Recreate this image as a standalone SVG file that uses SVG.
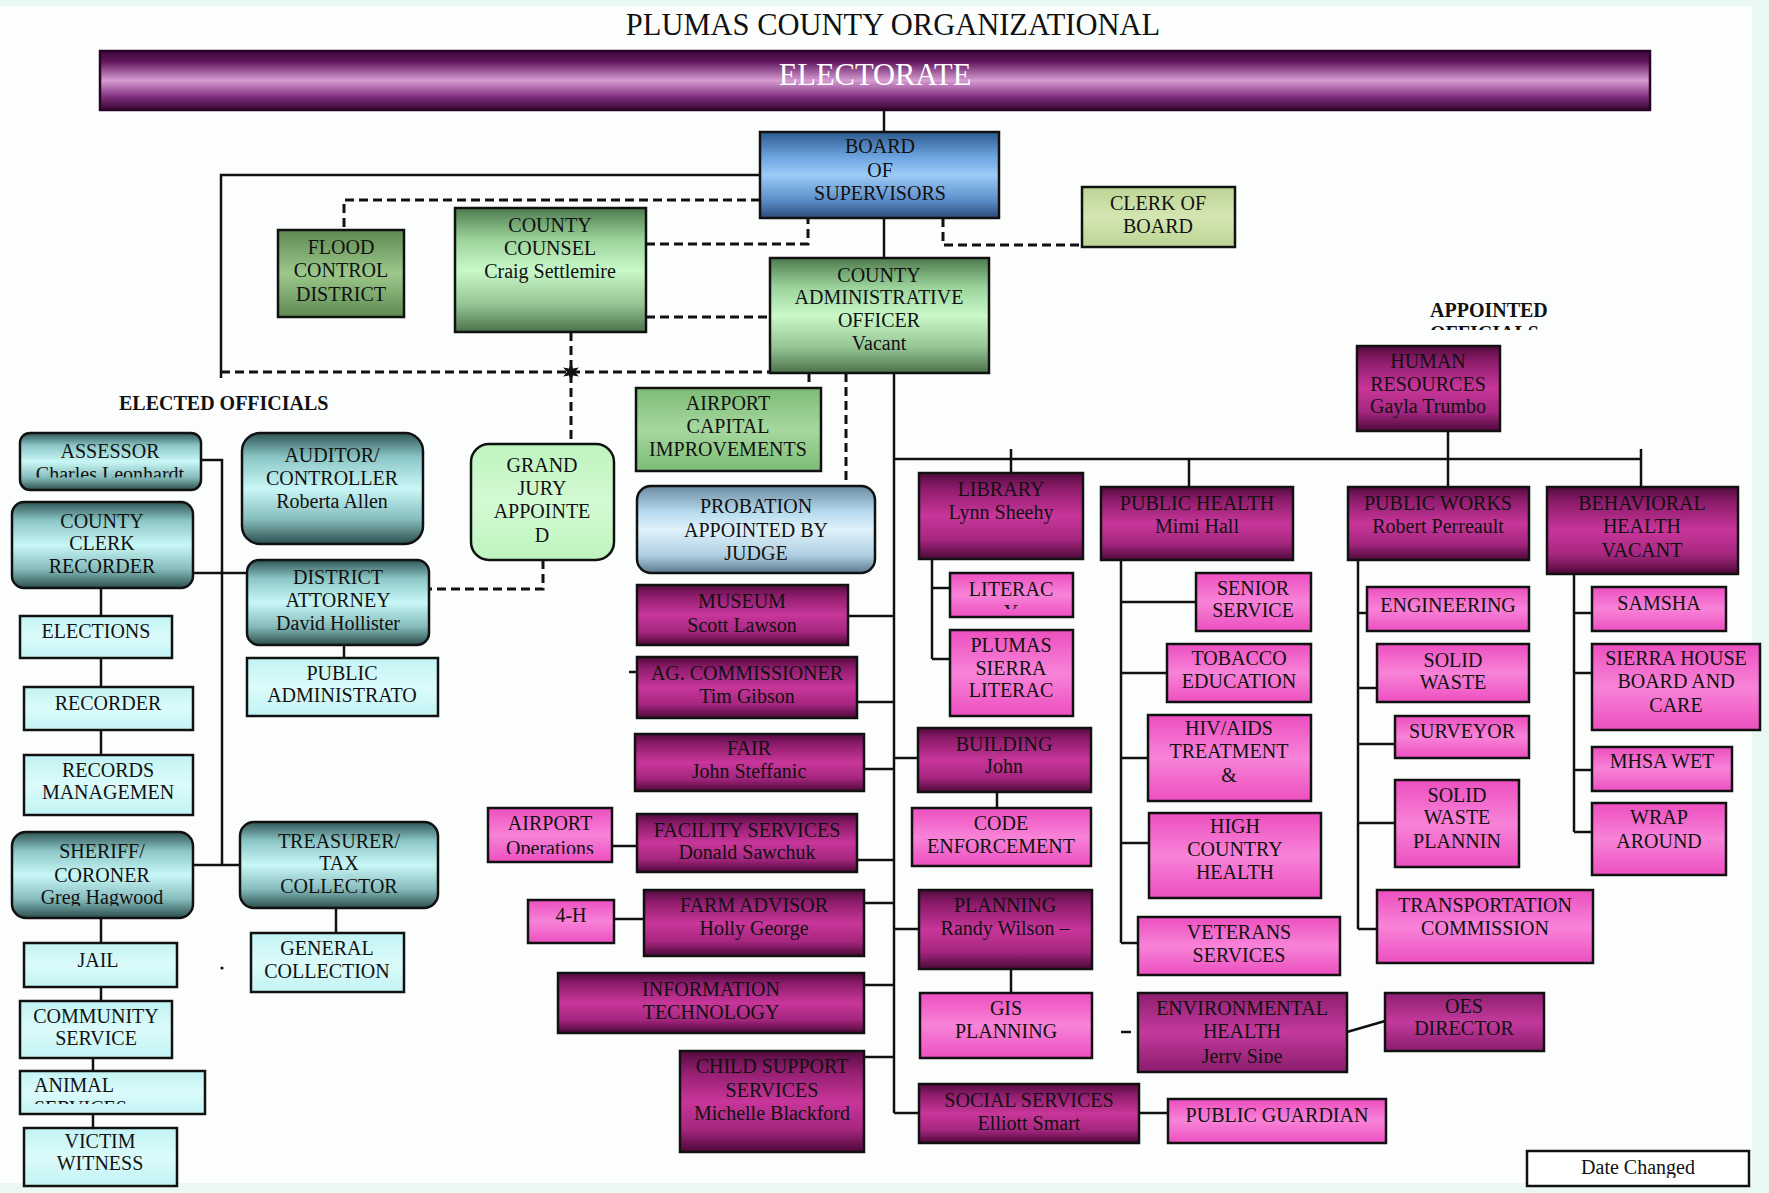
<svg xmlns="http://www.w3.org/2000/svg" width="1769" height="1193" viewBox="0 0 1769 1193">
<style>
.t{font-family:"Liberation Serif","Times New Roman",serif;font-size:20px;fill:#111;text-anchor:middle}
.lbl{font-family:"Liberation Serif","Times New Roman",serif;font-size:20px;font-weight:bold;fill:#111}
.b{stroke:#111;stroke-width:2.5}
.c{stroke:#111;stroke-width:2.5;fill:none}
.d{stroke:#111;stroke-width:3;stroke-dasharray:9 5;fill:none}
.mag{fill:url(#gMag)}
.pink{fill:url(#gPink)}
.teal{fill:url(#gTeal)}
.cyan{fill:url(#gCyan)}
.green{fill:url(#gGreen)}
</style>
<defs>
<linearGradient id="gElec" x1="0" y1="0" x2="0" y2="1"><stop offset="0" stop-color="#3a0838"/><stop offset="0.18" stop-color="#62155f"/><stop offset="0.5" stop-color="#d69cd2"/><stop offset="0.78" stop-color="#7e2e7c"/><stop offset="1" stop-color="#36062f"/></linearGradient>
<linearGradient id="gMag" x1="0" y1="0" x2="0" y2="1"><stop offset="0" stop-color="#520b3e"/><stop offset="0.18" stop-color="#8e1c6c"/><stop offset="0.5" stop-color="#c8369a"/><stop offset="0.78" stop-color="#a5267f"/><stop offset="1" stop-color="#4c0838"/></linearGradient>
<linearGradient id="gMag2" x1="0" y1="0" x2="0" y2="1"><stop offset="0" stop-color="#8e1f70"/><stop offset="0.5" stop-color="#c33a9c"/><stop offset="1" stop-color="#8a1c6c"/></linearGradient>
<linearGradient id="gPink" x1="0" y1="0" x2="0" y2="1"><stop offset="0" stop-color="#ec4fbf"/><stop offset="0.5" stop-color="#f883d8"/><stop offset="1" stop-color="#ec4fbf"/></linearGradient>
<linearGradient id="gTeal" x1="0" y1="0" x2="0" y2="1"><stop offset="0" stop-color="#2f5656"/><stop offset="0.22" stop-color="#8cc6c6"/><stop offset="0.5" stop-color="#c9f7f7"/><stop offset="0.78" stop-color="#86bcbc"/><stop offset="1" stop-color="#2c4e4e"/></linearGradient>
<linearGradient id="gCyan" x1="0" y1="0" x2="0" y2="1"><stop offset="0" stop-color="#c2f3f3"/><stop offset="0.5" stop-color="#dcfbfb"/><stop offset="1" stop-color="#c2f3f3"/></linearGradient>
<linearGradient id="gGreen" x1="0" y1="0" x2="0" y2="1"><stop offset="0" stop-color="#4e7a4e"/><stop offset="0.25" stop-color="#9ad29a"/><stop offset="0.5" stop-color="#c9f8c9"/><stop offset="0.78" stop-color="#94c494"/><stop offset="1" stop-color="#4a724a"/></linearGradient>
<linearGradient id="gFlood" x1="0" y1="0" x2="0" y2="1"><stop offset="0" stop-color="#5e8a50"/><stop offset="0.5" stop-color="#9cc88c"/><stop offset="1" stop-color="#5e8a50"/></linearGradient>
<linearGradient id="gCap" x1="0" y1="0" x2="0" y2="1"><stop offset="0" stop-color="#7cbc76"/><stop offset="0.5" stop-color="#a6d89e"/><stop offset="1" stop-color="#7cbc76"/></linearGradient>
<linearGradient id="gClerk" x1="0" y1="0" x2="0" y2="1"><stop offset="0" stop-color="#bcd494"/><stop offset="0.5" stop-color="#d4e6b2"/><stop offset="1" stop-color="#bcd494"/></linearGradient>
<linearGradient id="gBoard" x1="0" y1="0" x2="0" y2="1"><stop offset="0" stop-color="#2e5a8e"/><stop offset="0.3" stop-color="#6fa6e2"/><stop offset="0.5" stop-color="#9ccbf6"/><stop offset="0.8" stop-color="#5a8cc8"/><stop offset="1" stop-color="#2a4c78"/></linearGradient>
<linearGradient id="gProb" x1="0" y1="0" x2="0" y2="1"><stop offset="0" stop-color="#6a8aa0"/><stop offset="0.3" stop-color="#b6daee"/><stop offset="0.5" stop-color="#e0f2fa"/><stop offset="0.8" stop-color="#aecee0"/><stop offset="1" stop-color="#5a7890"/></linearGradient>
<linearGradient id="gJury" x1="0" y1="0" x2="0" y2="1"><stop offset="0" stop-color="#bdf4bd"/><stop offset="0.5" stop-color="#d4fad4"/><stop offset="1" stop-color="#bdf4bd"/></linearGradient>
<clipPath id="cpAppointed" clipPathUnits="userSpaceOnUse"><rect x="1400" y="290" width="200" height="40"/></clipPath>
<clipPath id="cpAssessor" clipPathUnits="userSpaceOnUse"><rect x="20" y="433" width="181" height="44.5"/></clipPath>
<clipPath id="cpLiteracy" clipPathUnits="userSpaceOnUse"><rect x="950" y="573" width="123" height="36"/></clipPath>
<clipPath id="cpAnimal" clipPathUnits="userSpaceOnUse"><rect x="20" y="1071" width="185" height="33"/></clipPath>
<clipPath id="cpOps" clipPathUnits="userSpaceOnUse"><rect x="488" y="808" width="124" height="46"/></clipPath>
<clipPath id="cpEnv" clipPathUnits="userSpaceOnUse"><rect x="1138" y="993" width="209" height="70"/></clipPath>
<clipPath id="cpSheriff" clipPathUnits="userSpaceOnUse"><rect x="12" y="832" width="181" height="74"/></clipPath>
<clipPath id="cpDate" clipPathUnits="userSpaceOnUse"><rect x="1527" y="1151" width="222" height="27"/></clipPath>
</defs>

<rect x="0" y="0" width="1769" height="1193" fill="#eaf8f4"/>
<rect x="0" y="6" width="1752" height="1177" fill="#fcfefe"/>

<g id="title"><text class="t" x="893" y="35" style="font-size:30.5px">PLUMAS COUNTY ORGANIZATIONAL</text></g>

<g id="connectors">
<path class="c" d="M884,110V132M884,218V258M894,373V1113M760,175H221V378M894,459H1641M1448,431V487M1011,449V473M1189,459V487M1641,449V487"/>
<path class="c" d="M932,559V659M932,588H950M932,659H950M894,758H918M997,792V808M894,929H919M1011,969V993M894,1113H919M1139,1113H1168"/>
<path class="c" d="M1121,559V943M1121,602H1196M1121,673H1167M1121,758H1148M1121,843H1149M1121,943H1138M1121,1032H1131M1347,1032L1385,1021"/>
<path class="c" d="M1358,560V929M1358,613H1367M1358,688H1377M1358,744H1395M1358,823H1395M1358,929H1377"/>
<path class="c" d="M1574,574V832M1574,613H1592M1574,673H1592M1574,770H1592M1574,832H1592"/>
<path class="c" d="M848,616H894M857,702H894M864,769H894M857,860H894M864,903H894M864,985H894M864,1057H894M629,672H637M612,846H637M614,919H644"/>
<path class="c" d="M201,460H222V865M193,573H247M193,865H240M101,588V616M101,658V687M101,730V755M344,645V658M336,908V933M101,918V943M101,987V1001M93,1058V1082M93,1114V1128"/>
<path class="d" d="M760,200H344V230M646,244H808V218M646,317H770M943,218V245H1082M571,332V444M221,372H770M809,373V388M846,373V486M543,560V589H429"/>
<polygon points="571,363 573,368.5 578.8,367.5 575,372 578.8,376.5 573,375.5 571,381 569,375.5 563.2,376.5 567,372 563.2,367.5 569,368.5" fill="#111"/>
<circle cx="222" cy="968" r="1.6" fill="#111"/>
</g>

<g id="electorate"><rect x="100" y="51" width="1550" height="59" fill="url(#gElec)" stroke="#2a0428" stroke-width="2.5"/><text class="t" x="875" y="85" style="font-size:30.5px;fill:#fff">ELECTORATE</text></g>

<g id="board"><rect class="b" x="760" y="132" width="239" height="86" fill="url(#gBoard)"/><text class="t" x="880"><tspan x="880" y="153">BOARD</tspan><tspan x="880" y="177">OF</tspan><tspan x="880" y="200">SUPERVISORS</tspan></text></g>
<g id="cao"><rect class="b green" x="770" y="258" width="219" height="115"/><text class="t"><tspan x="879" y="282">COUNTY</tspan><tspan x="879" y="304">ADMINISTRATIVE</tspan><tspan x="879" y="327">OFFICER</tspan><tspan x="879" y="350">Vacant</tspan></text></g>
<g id="clerk-of-board"><rect class="b" x="1082" y="187" width="153" height="60" fill="url(#gClerk)"/><text class="t"><tspan x="1158" y="210">CLERK OF</tspan><tspan x="1158" y="233">BOARD</tspan></text></g>
<g id="county-counsel"><rect class="b green" x="455" y="208" width="191" height="124"/><text class="t"><tspan x="550" y="232">COUNTY</tspan><tspan x="550" y="255">COUNSEL</tspan><tspan x="550" y="278">Craig Settlemire</tspan></text></g>
<g id="flood-control"><rect class="b" x="278" y="230" width="126" height="87" fill="url(#gFlood)"/><text class="t"><tspan x="341" y="254">FLOOD</tspan><tspan x="341" y="277">CONTROL</tspan><tspan x="341" y="301">DISTRICT</tspan></text></g>
<g id="airport-capital"><rect class="b" x="636" y="388" width="185" height="83" fill="url(#gCap)"/><text class="t"><tspan x="728" y="410">AIRPORT</tspan><tspan x="728" y="433">CAPITAL</tspan><tspan x="728" y="456">IMPROVEMENTS</tspan></text></g>
<g id="probation"><rect class="b" x="637" y="486" width="238" height="87" rx="14" fill="url(#gProb)"/><text class="t"><tspan x="756" y="513">PROBATION</tspan><tspan x="756" y="537">APPOINTED BY</tspan><tspan x="756" y="560">JUDGE</tspan></text></g>
<g id="grand-jury"><rect class="b" x="471" y="444" width="143" height="116" rx="18" fill="url(#gJury)"/><text class="t"><tspan x="542" y="472">GRAND</tspan><tspan x="542" y="495">JURY</tspan><tspan x="542" y="518">APPOINTE</tspan><tspan x="542" y="542">D</tspan></text></g>

<g id="label-appointed" clip-path="url(#cpAppointed)"><text class="lbl"><tspan x="1430" y="317">APPOINTED</tspan><tspan x="1430" y="340">OFFICIALS</tspan></text></g>
<g id="label-elected"><text class="lbl" x="119" y="410">ELECTED OFFICIALS</text></g>

<g id="human-resources"><rect class="b mag" x="1357" y="346" width="143" height="85"/><text class="t"><tspan x="1428" y="368">HUMAN</tspan><tspan x="1428" y="391">RESOURCES</tspan><tspan x="1428" y="413">Gayla Trumbo</tspan></text></g>
<g id="library"><rect class="b mag" x="919" y="473" width="164" height="86"/><text class="t"><tspan x="1001" y="496">LIBRARY</tspan><tspan x="1001" y="519">Lynn Sheehy</tspan></text></g>
<g id="public-health"><rect class="b mag" x="1101" y="487" width="192" height="73"/><text class="t"><tspan x="1197" y="510">PUBLIC HEALTH</tspan><tspan x="1197" y="533">Mimi Hall</tspan></text></g>
<g id="public-works"><rect class="b mag" x="1348" y="487" width="181" height="73"/><text class="t"><tspan x="1438" y="510">PUBLIC WORKS</tspan><tspan x="1438" y="533">Robert Perreault</tspan></text></g>
<g id="behavioral-health"><rect class="b mag" x="1547" y="487" width="191" height="87"/><text class="t"><tspan x="1642" y="510">BEHAVIORAL</tspan><tspan x="1642" y="533">HEALTH</tspan><tspan x="1642" y="557">VACANT</tspan></text></g>

<g id="literacy"><rect class="b pink" x="950" y="573" width="123" height="44"/><g clip-path="url(#cpLiteracy)"><text class="t"><tspan x="1011" y="596">LITERAC</tspan><tspan x="1011" y="619">Y</tspan></text></g></g>
<g id="plumas-sierra-literacy"><rect class="b pink" x="950" y="630" width="123" height="86"/><text class="t"><tspan x="1011" y="652">PLUMAS</tspan><tspan x="1011" y="675">SIERRA</tspan><tspan x="1011" y="697">LITERAC</tspan></text></g>
<g id="building"><rect class="b mag" x="918" y="728" width="173" height="64"/><text class="t"><tspan x="1004" y="751">BUILDING</tspan><tspan x="1004" y="773">John</tspan></text></g>
<g id="code-enforcement"><rect class="b pink" x="912" y="808" width="179" height="58"/><text class="t"><tspan x="1001" y="830">CODE</tspan><tspan x="1001" y="853">ENFORCEMENT</tspan></text></g>
<g id="planning"><rect class="b mag" x="919" y="890" width="173" height="79"/><text class="t"><tspan x="1005" y="912">PLANNING</tspan><tspan x="1005" y="935">Randy Wilson –</tspan></text></g>
<g id="gis-planning"><rect class="b pink" x="920" y="993" width="172" height="65"/><text class="t"><tspan x="1006" y="1015">GIS</tspan><tspan x="1006" y="1038">PLANNING</tspan></text></g>
<g id="social-services"><rect class="b mag" x="919" y="1084" width="220" height="59"/><text class="t"><tspan x="1029" y="1107">SOCIAL SERVICES</tspan><tspan x="1029" y="1130">Elliott Smart</tspan></text></g>
<g id="public-guardian"><rect class="b pink" x="1168" y="1099" width="218" height="44"/><text class="t" x="1277" y="1122">PUBLIC GUARDIAN</text></g>

<g id="senior-service"><rect class="b pink" x="1196" y="573" width="115" height="58"/><text class="t"><tspan x="1253" y="595">SENIOR</tspan><tspan x="1253" y="617">SERVICE</tspan></text></g>
<g id="tobacco-education"><rect class="b pink" x="1167" y="644" width="144" height="58"/><text class="t"><tspan x="1239" y="665">TOBACCO</tspan><tspan x="1239" y="688">EDUCATION</tspan></text></g>
<g id="hiv-aids"><rect class="b pink" x="1148" y="715" width="163" height="86"/><text class="t"><tspan x="1229" y="735">HIV/AIDS</tspan><tspan x="1229" y="758">TREATMENT</tspan><tspan x="1229" y="782">&amp;</tspan></text></g>
<g id="high-country-health"><rect class="b pink" x="1149" y="813" width="172" height="85"/><text class="t"><tspan x="1235" y="833">HIGH</tspan><tspan x="1235" y="856">COUNTRY</tspan><tspan x="1235" y="879">HEALTH</tspan></text></g>
<g id="veterans-services"><rect class="b pink" x="1138" y="917" width="202" height="58"/><text class="t"><tspan x="1239" y="939">VETERANS</tspan><tspan x="1239" y="962">SERVICES</tspan></text></g>
<g id="environmental-health"><rect class="b" x="1138" y="993" width="209" height="79" fill="url(#gMag2)"/><g clip-path="url(#cpEnv)"><text class="t"><tspan x="1242" y="1015">ENVIRONMENTAL</tspan><tspan x="1242" y="1038">HEALTH</tspan><tspan x="1242" y="1063">Jerry Sipe</tspan></text></g></g>
<g id="oes-director"><rect class="b" x="1385" y="993" width="159" height="58" fill="url(#gMag2)"/><text class="t"><tspan x="1464" y="1013">OES</tspan><tspan x="1464" y="1035">DIRECTOR</tspan></text></g>

<g id="engineering"><rect class="b pink" x="1367" y="587" width="162" height="44"/><text class="t" x="1448" y="612">ENGINEERING</text></g>
<g id="solid-waste"><rect class="b pink" x="1377" y="644" width="152" height="58"/><text class="t"><tspan x="1453" y="667">SOLID</tspan><tspan x="1453" y="689">WASTE</tspan></text></g>
<g id="surveyor"><rect class="b pink" x="1395" y="716" width="134" height="42"/><text class="t" x="1462" y="738">SURVEYOR</text></g>
<g id="solid-waste-planning"><rect class="b pink" x="1395" y="780" width="124" height="87"/><text class="t"><tspan x="1457" y="802">SOLID</tspan><tspan x="1457" y="824">WASTE</tspan><tspan x="1457" y="848">PLANNIN</tspan></text></g>
<g id="transportation"><rect class="b pink" x="1377" y="890" width="216" height="73"/><text class="t"><tspan x="1485" y="912">TRANSPORTATION</tspan><tspan x="1485" y="935">COMMISSION</tspan></text></g>

<g id="samsha"><rect class="b pink" x="1592" y="587" width="134" height="44"/><text class="t" x="1659" y="610">SAMSHA</text></g>
<g id="sierra-house"><rect class="b pink" x="1592" y="644" width="168" height="86"/><text class="t"><tspan x="1676" y="665">SIERRA HOUSE</tspan><tspan x="1676" y="688">BOARD AND</tspan><tspan x="1676" y="712">CARE</tspan></text></g>
<g id="mhsa-wet"><rect class="b pink" x="1592" y="747" width="140" height="44"/><text class="t" x="1662" y="768">MHSA WET</text></g>
<g id="wrap-around"><rect class="b pink" x="1592" y="803" width="134" height="72"/><text class="t"><tspan x="1659" y="824">WRAP</tspan><tspan x="1659" y="848">AROUND</tspan></text></g>

<g id="museum"><rect class="b mag" x="637" y="585" width="211" height="60"/><text class="t"><tspan x="742" y="608">MUSEUM</tspan><tspan x="742" y="632">Scott Lawson</tspan></text></g>
<g id="ag-commissioner"><rect class="b mag" x="637" y="657" width="220" height="61"/><text class="t"><tspan x="747" y="680">AG. COMMISSIONER</tspan><tspan x="747" y="703">Tim Gibson</tspan></text></g>
<g id="fair"><rect class="b mag" x="635" y="734" width="229" height="57"/><text class="t"><tspan x="749" y="755">FAIR</tspan><tspan x="749" y="778">John Steffanic</tspan></text></g>
<g id="facility-services"><rect class="b mag" x="637" y="814" width="220" height="58"/><text class="t"><tspan x="747" y="837">FACILITY SERVICES</tspan><tspan x="747" y="859">Donald Sawchuk</tspan></text></g>
<g id="airport-operations"><rect class="b pink" x="488" y="808" width="124" height="54"/><g clip-path="url(#cpOps)"><text class="t"><tspan x="550" y="830">AIRPORT</tspan><tspan x="550" y="855">Operations</tspan></text></g></g>
<g id="farm-advisor"><rect class="b mag" x="644" y="890" width="220" height="66"/><text class="t"><tspan x="754" y="912">FARM ADVISOR</tspan><tspan x="754" y="935">Holly George</tspan></text></g>
<g id="four-h"><rect class="b pink" x="528" y="900" width="86" height="43"/><text class="t" x="571" y="922">4-H</text></g>
<g id="information-technology"><rect class="b mag" x="558" y="973" width="306" height="60"/><text class="t"><tspan x="711" y="996">INFORMATION</tspan><tspan x="711" y="1019">TECHNOLOGY</tspan></text></g>
<g id="child-support"><rect class="b mag" x="680" y="1051" width="184" height="101"/><text class="t"><tspan x="772" y="1073">CHILD SUPPORT</tspan><tspan x="772" y="1097">SERVICES</tspan><tspan x="772" y="1120">Michelle Blackford</tspan></text></g>

<g id="assessor"><rect class="b teal" x="20" y="433" width="181" height="57" rx="10"/><g clip-path="url(#cpAssessor)"><text class="t"><tspan x="110" y="458">ASSESSOR</tspan><tspan x="110" y="481">Charles Leonhardt</tspan></text></g></g>
<g id="auditor-controller"><rect class="b teal" x="242" y="433" width="181" height="111" rx="18"/><text class="t"><tspan x="332" y="462">AUDITOR/</tspan><tspan x="332" y="485">CONTROLLER</tspan><tspan x="332" y="508">Roberta Allen</tspan></text></g>
<g id="county-clerk"><rect class="b teal" x="12" y="502" width="181" height="86" rx="12"/><text class="t"><tspan x="102" y="528">COUNTY</tspan><tspan x="102" y="550">CLERK</tspan><tspan x="102" y="573">RECORDER</tspan></text></g>
<g id="district-attorney"><rect class="b teal" x="247" y="560" width="182" height="85" rx="12"/><text class="t"><tspan x="338" y="584">DISTRICT</tspan><tspan x="338" y="607">ATTORNEY</tspan><tspan x="338" y="630">David Hollister</tspan></text></g>
<g id="public-administrator"><rect class="b cyan" x="247" y="658" width="191" height="58"/><text class="t"><tspan x="342" y="680">PUBLIC</tspan><tspan x="342" y="702">ADMINISTRATO</tspan></text></g>
<g id="elections"><rect class="b cyan" x="20" y="616" width="152" height="42"/><text class="t" x="96" y="638">ELECTIONS</text></g>
<g id="recorder"><rect class="b cyan" x="24" y="687" width="169" height="43"/><text class="t" x="108" y="710">RECORDER</text></g>
<g id="records-management"><rect class="b cyan" x="24" y="755" width="169" height="60"/><text class="t"><tspan x="108" y="777">RECORDS</tspan><tspan x="108" y="799">MANAGEMEN</tspan></text></g>
<g id="sheriff-coroner"><rect class="b teal" x="12" y="832" width="181" height="86" rx="14"/><g clip-path="url(#cpSheriff)"><text class="t"><tspan x="102" y="858">SHERIFF/</tspan><tspan x="102" y="882">CORONER</tspan><tspan x="102" y="904">Greg Hagwood</tspan></text></g></g>
<g id="treasurer"><rect class="b teal" x="240" y="822" width="198" height="86" rx="14"/><text class="t"><tspan x="339" y="848">TREASURER/</tspan><tspan x="339" y="870">TAX</tspan><tspan x="339" y="893">COLLECTOR</tspan></text></g>
<g id="general-collection"><rect class="b cyan" x="251" y="933" width="153" height="59"/><text class="t"><tspan x="327" y="955">GENERAL</tspan><tspan x="327" y="978">COLLECTION</tspan></text></g>
<g id="jail"><rect class="b cyan" x="24" y="943" width="153" height="44"/><text class="t" x="98" y="967">JAIL</text></g>
<g id="community-service"><rect class="b cyan" x="20" y="1001" width="152" height="57"/><text class="t"><tspan x="96" y="1023">COMMUNITY</tspan><tspan x="96" y="1045">SERVICE</tspan></text></g>
<g id="animal-services"><rect class="b cyan" x="20" y="1071" width="185" height="43"/><g clip-path="url(#cpAnimal)"><text class="t" style="text-anchor:start"><tspan x="34" y="1092">ANIMAL</tspan><tspan x="34" y="1115">SERVICES</tspan></text></g></g>
<g id="victim-witness"><rect class="b cyan" x="24" y="1128" width="153" height="58"/><text class="t"><tspan x="100" y="1148">VICTIM</tspan><tspan x="100" y="1170">WITNESS</tspan></text></g>

<g id="date-changed"><rect class="b" x="1527" y="1151" width="222" height="35" fill="#fff"/><g clip-path="url(#cpDate)"><text class="t" x="1638" y="1174">Date Changed</text></g></g>
</svg>
